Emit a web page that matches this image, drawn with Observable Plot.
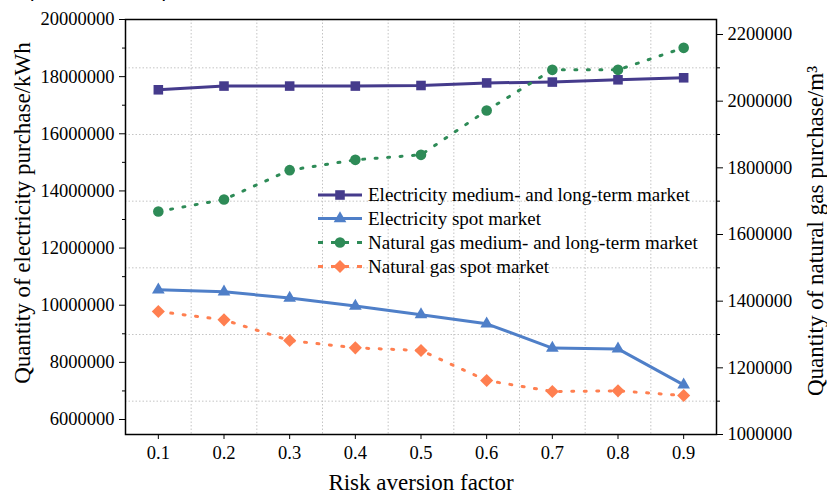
<!DOCTYPE html>
<html>
<head>
<meta charset="utf-8">
<script src="https://cdn.jsdelivr.net/npm/d3@7"></script>
<script src="https://cdn.jsdelivr.net/npm/@observablehq/plot@0.6"></script>
<style>
  html, body { margin: 0; padding: 0; background: #fff; }
  #wrap { position: relative; width: 827px; height: 502px; overflow: hidden; background: #fff; }
  #caption {
    position: absolute; right: 612px; top: -22px; white-space: nowrap;
    font: italic 22px/22px "Liberation Serif", "Times New Roman", serif; color: #000;
  }
  #chart { position: absolute; left: 0; top: 0; }
</style>
</head>
<body>
<div id="wrap">
  <div id="chart"></div>
  <div id="caption">Influence of risk aversion factor</div>
</div>
<script>
// Risk aversion factor (x axis)
const riskFactor = [0.1, 0.2, 0.3, 0.4, 0.5, 0.6, 0.7, 0.8, 0.9];

// Electricity purchases, kWh (left axis)
const elecLongTerm = [17540000, 17670000, 17670000, 17670000, 17690000, 17780000, 17810000, 17890000, 17960000];
const elecSpot     = [10540000, 10470000, 10250000, 9970000, 9670000, 9350000, 8500000, 8470000, 7210000];

// Natural gas purchases, m³ (right axis)
const gasLongTerm = [1669000, 1705000, 1793000, 1824000, 1839000, 1972000, 2094000, 2094000, 2160000];
const gasSpot     = [1369000, 1344000, 1282000, 1260000, 1252000, 1162000, 1129000, 1131000, 1117000];

// Axis ticks
const leftTicks  = [6000000, 8000000, 10000000, 12000000, 14000000, 16000000, 18000000, 20000000];
const leftMinor  = [7000000, 9000000, 11000000, 13000000, 15000000, 17000000, 19000000];
const rightTicks = [1000000, 1200000, 1400000, 1600000, 1800000, 2000000, 2200000];
const rightMinor = [1100000, 1300000, 1500000, 1700000, 1900000, 2100000];
const xGrid      = [0.15, 0.25, 0.35, 0.45, 0.55, 0.65, 0.75, 0.85];

const seriesNames = [
  "Electricity medium- and long-term market",
  "Electricity spot market",
  "Natural gas medium- and long-term market",
  "Natural gas spot market"
];
const seriesColors = ["#453b8c", "#4f7fc8", "#2e8b57", "#ff7f50"];
const seriesSymbols = ["square", "triangle", "circle", "diamond2"];
const seriesR = [5.4, 4.7, 5.3, 5.9];
const seriesDash = [null, null, "2,10.5", "2,10.5"];

// Both y axes share one scale; gas values are mapped onto the electricity range.
const yDomain = [5475000, 20000000];
const gDomain = [1000000, 2245000];
const k = (yDomain[1] - yDomain[0]) / (gDomain[1] - gDomain[0]);
const toLeft = g => yDomain[0] + (g - gDomain[0]) * k;
const fromLeft = y => gDomain[0] + (y - yDomain[0]) / k;

const table = [
  ...riskFactor.map((x, i) => ({x, y: elecLongTerm[i], s: 0})),
  ...riskFactor.map((x, i) => ({x, y: elecSpot[i], s: 1})),
  ...riskFactor.map((x, i) => ({x, y: toLeft(gasLongTerm[i]), s: 2})),
  ...riskFactor.map((x, i) => ({x, y: toLeft(gasSpot[i]), s: 3}))
];

const fmt = d3.format("d");
const font = "'Liberation Serif', 'Times New Roman', serif";

const seriesMarks = [];
for (let s = 0; s < 4; s++) {
  const rows = table.filter(d => d.s === s);
  seriesMarks.push(Plot.line(rows, {
    x: "x", y: "y", stroke: seriesColors[s], strokeWidth: 3,
    strokeDasharray: seriesDash[s] ?? undefined
  }));
  seriesMarks.push(Plot.dot(rows, {
    x: "x", y: "y", symbol: () => seriesSymbols[s], r: seriesR[s],
    fill: seriesColors[s], stroke: "none"
  }));
}

const plot = Plot.plot({
  width: 827,
  height: 502,
  marginTop: 19,
  marginBottom: 68,
  marginLeft: 125,
  marginRight: 111,
  style: {fontFamily: font, fontSize: "18.5px", color: "#000", background: "transparent"},
  x: {domain: [0.05, 0.95]},
  y: {domain: yDomain},
  symbol: {type: "identity"},
  marks: [
    Plot.ruleX(xGrid, {stroke: "#c4c4c4", strokeWidth: 1, strokeDasharray: "1.5,2"}),
    Plot.ruleY(rightMinor.map(toLeft), {stroke: "#c4c4c4", strokeWidth: 1, strokeDasharray: "1.5,2"}),
    ...seriesMarks,
    Plot.axisX({ticks: riskFactor, tickFormat: d3.format(".1f"), tickSize: 5, tickPadding: 6, label: null}),
    Plot.axisY({anchor: "left", ticks: leftTicks, tickFormat: fmt, tickSize: 6, tickPadding: 5, label: null}),
    Plot.axisY({anchor: "left", ticks: leftMinor, tickFormat: () => "", tickSize: 3, label: null}),
    Plot.axisY({anchor: "right", ticks: rightTicks.map(toLeft), tickFormat: d => fmt(Math.round(fromLeft(d))), tickSize: 6, tickPadding: 5, label: null}),
    Plot.axisY({anchor: "right", ticks: rightMinor.map(toLeft), tickFormat: () => "", tickSize: 3, label: null}),
    Plot.frame({stroke: "#000", strokeWidth: 1.5}),
    Plot.text(["Quantity of electricity purchase/kWh"], {
      frameAnchor: "left", textAnchor: "middle", dx: -103, dy: -14, rotate: -90, fontSize: 23, fill: "#000"
    }),
    Plot.text(["Quantity of natural gas purchase/m³"], {
      frameAnchor: "right", textAnchor: "middle", dx: 99, dy: 4, rotate: -90, fontSize: 23, fill: "#000"
    }),
    Plot.text(["Risk aversion factor"], {
      frameAnchor: "bottom", dy: 55, fontSize: 23, fill: "#000"
    })
  ]
});

// Legend inside the plotting area
const svg = d3.select(plot);
const lg = svg.append("g").attr("font-family", font).attr("font-size", 19).attr("text-anchor", "start");
const rowY = [195, 218.5, 242.5, 266.5];
seriesNames.forEach((name, s) => {
  const y = rowY[s];
  const line = lg.append("line")
    .attr("x1", 318).attr("x2", 362).attr("y1", y).attr("y2", y)
    .attr("stroke", seriesColors[s]).attr("stroke-width", 3);
  if (seriesDash[s]) line.attr("stroke-dasharray", "5,8");
  const sym = d3.symbol().type({
    square: d3.symbolSquare, triangle: d3.symbolTriangle,
    circle: d3.symbolCircle, diamond2: d3.symbolDiamond2
  }[seriesSymbols[s]]).size(Math.PI * seriesR[s] * seriesR[s]);
  lg.append("path").attr("d", sym()).attr("transform", `translate(340,${y})`)
    .attr("fill", seriesColors[s]);
  lg.append("text").attr("x", 368).attr("y", y).attr("dy", "0.32em")
    .attr("fill", "#000").text(name);
});

document.getElementById("chart").appendChild(plot);
</script>
</body>
</html>
